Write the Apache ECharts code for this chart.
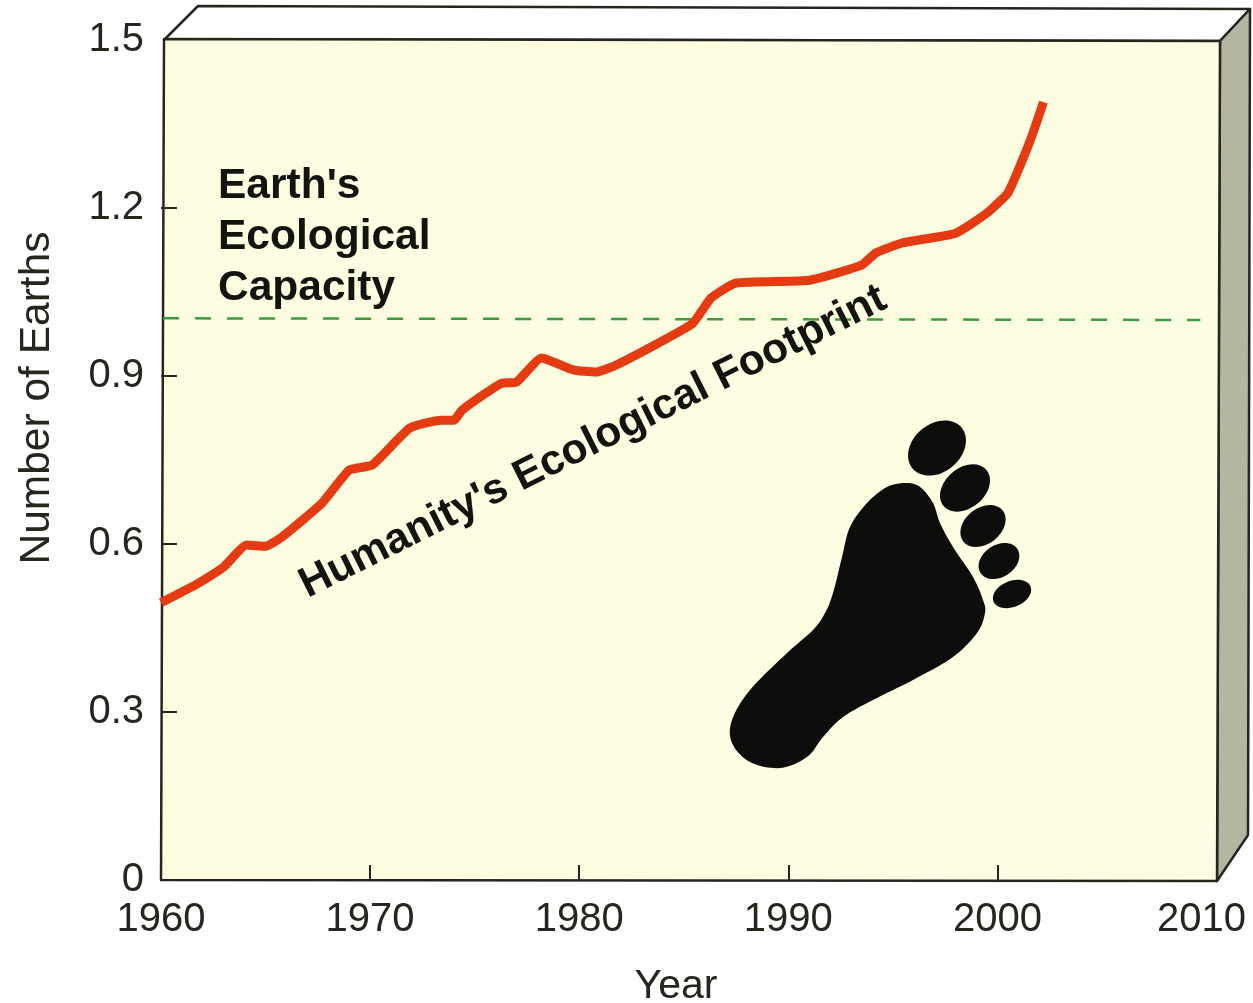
<!DOCTYPE html>
<html>
<head>
<meta charset="utf-8">
<style>html,body{margin:0;padding:0;background:#fff}#c{width:1253px;height:1003px}</style>
<script src="https://cdn.jsdelivr.net/npm/echarts@6/dist/echarts.min.js"></script>
</head>
<body>
<div id="c"></div>
<script>
const footprintYears = [1960.0,1961.8,1963.0,1964.1,1965.0,1965.8,1967.7,1969.0,1970.1,1971.9,1973.4,1974.0,1974.4,1975.4,1976.3,1977.0,1978.2,1979.7,1980.8,1981.8,1985.4,1986.3,1987.5,1991.0,1993.5,1994.2,1995.5,1998.0,1999.5,2000.5,2001.2,2001.7,2002.2];
const footprintValues = [0.495,0.530,0.559,0.598,0.596,0.613,0.673,0.732,0.741,0.807,0.821,0.821,0.839,0.866,0.887,0.889,0.932,0.911,0.907,0.920,0.993,1.039,1.066,1.071,1.098,1.120,1.138,1.155,1.191,1.227,1.286,1.334,1.389];
const capacityYears = [1960.1,2009.7];
const capacityValues = [1.003,1.0];
const xTickLabels = [1960,1970,1980,1990,2000,2010];
const xTicks = [1970,1980,1990,2000];
const yTickLabels = [0,0.3,0.6,0.9,1.2,1.5];
const yTicks = [0.3,0.6,0.9,1.2];

const FONT = '"Liberation Sans", Arial, sans-serif';
const INK = '#26261f';
const zip = (a,b) => a.map((v,i)=>[v,b[i]]);
const chart = echarts.init(document.getElementById('c'), null, {renderer:'canvas'});

const toe = (x,y,rx,ry,deg) => ({type:'ellipse',z:5,x,y,rotation:deg*Math.PI/180,
  shape:{cx:0,cy:0,rx,ry},style:{fill:'#0d0d0b'}});

// closed Catmull-Rom outline for the decorative foot icon, sampled finely
function closedCurve(p){
  const out=[],n=p.length,k=10;
  for(let i=0;i<n;i++){
    const a=p[(i-1+n)%n],b=p[i],c=p[(i+1)%n],e=p[(i+2)%n];
    for(let j=0;j<k;j++){
      const t=j/k,t2=t*t,t3=t2*t;
      const f=d=>0.5*(2*b[d]+(c[d]-a[d])*t+(2*a[d]-5*b[d]+4*c[d]-e[d])*t2+(3*b[d]-a[d]-3*c[d]+e[d])*t3);
      out.push([f(0),f(1)]);
    }
  }
  return out;
}
const footOutline=[[906,483],[920,487],[933,503],[940,523],[953,547],[973,577],[983,600],[985,613],[977,633],[953,657],[913,680],[873,700],[843,717],[823,737],[807,757],[780,768],[750,762],[732,743],[732,720],[750,690],[787,653],[813,630],[825,613],[833,593],[842,557],[850,527],[867,503],[887,487]];

chart.setOption({
  animation:false,
  backgroundColor:'#ffffff',
  grid:{left:161,right:36,top:40,bottom:123,containLabel:false,outerBoundsMode:'none'},
  xAxis:{type:'value',min:1960,max:2010.5,
    name:'Year',nameLocation:'middle',nameGap:86,
    nameTextStyle:{fontFamily:FONT,fontSize:41,color:INK,padding:[0,26,0,0]},
    axisLine:{show:false},splitLine:{show:false},
    axisTick:{show:true,inside:true,length:15,customValues:xTicks,lineStyle:{color:INK,width:2}},
    axisLabel:{show:true,customValues:xTickLabels,margin:20,fontFamily:FONT,fontSize:40,color:INK,
      formatter:v=>v===2010?'{s|2010}':String(v),
      rich:{s:{fontFamily:FONT,fontSize:40,color:INK,padding:[0,10,0,0]}}}
  },
  yAxis:{type:'value',min:0,max:1.5,
    name:'Number of Earths',nameLocation:'middle',nameGap:102,
    nameTextStyle:{fontFamily:FONT,fontSize:42.5,color:INK,padding:[0,0,0,124]},
    axisLine:{show:false},splitLine:{show:false},
    axisTick:{show:true,inside:true,length:16,customValues:yTicks,lineStyle:{color:INK,width:2}},
    axisLabel:{show:true,customValues:yTickLabels,margin:17,fontFamily:FONT,fontSize:40,color:INK,
      formatter:v=>v===0?'0':v.toFixed(1)}
  },
  series:[
    {type:'line',name:"Earth's Ecological Capacity",data:zip(capacityYears,capacityValues),symbol:'none',z:2,
      lineStyle:{color:'#3f9a3c',width:2.5,type:[16,16]}},
    {type:'line',name:"Humanity's Ecological Footprint",data:zip(footprintYears,footprintValues),symbol:'none',z:3,smooth:0.15,
      lineStyle:{color:'#e43b12',width:9,join:'round',cap:'butt'}}
  ],
  graphic:{elements:[
    {type:'polygon',z:-3,shape:{points:[[165,39],[198,6],[1250,9],[1220,41]]},
      style:{fill:'#ffffff',stroke:INK,lineWidth:2.5,lineJoin:'round'}},
    {type:'polygon',z:-3,shape:{points:[[1220,41],[1250,9],[1248,835],[1217,881]]},
      style:{fill:'#b4b6a0',stroke:INK,lineWidth:2.5,lineJoin:'round'}},
    {type:'polygon',z:-2,shape:{points:[[164,39],[1220,41],[1217,881],[161,880]]},
      style:{fill:'#fdfde2',stroke:INK,lineWidth:2.5,lineJoin:'round'}},
    {type:'text',z:6,x:218,y:161,style:{text:"Earth's\nEcological\nCapacity",fontFamily:FONT,fontWeight:'bold',fontSize:42.5,lineHeight:51,fill:'#14140f'}},
    {type:'text',z:6,x:593,y:442,rotation:26.6*Math.PI/180,style:{text:"Humanity's Ecological Footprint",align:'center',verticalAlign:'middle',fontFamily:FONT,fontWeight:'bold',fontSize:42.5,fill:'#14140f'}},
    {type:'polygon',z:5,shape:{points:closedCurve(footOutline)},style:{fill:'#0d0d0b'}},
    toe(937,448,32,24,40),
    toe(965,488,28,20,40),
    toe(983,526,25,18,38),
    toe(999,561,22,16,33),
    toe(1012,594,20,13,22)
  ]}
});
</script>
</body>
</html>
